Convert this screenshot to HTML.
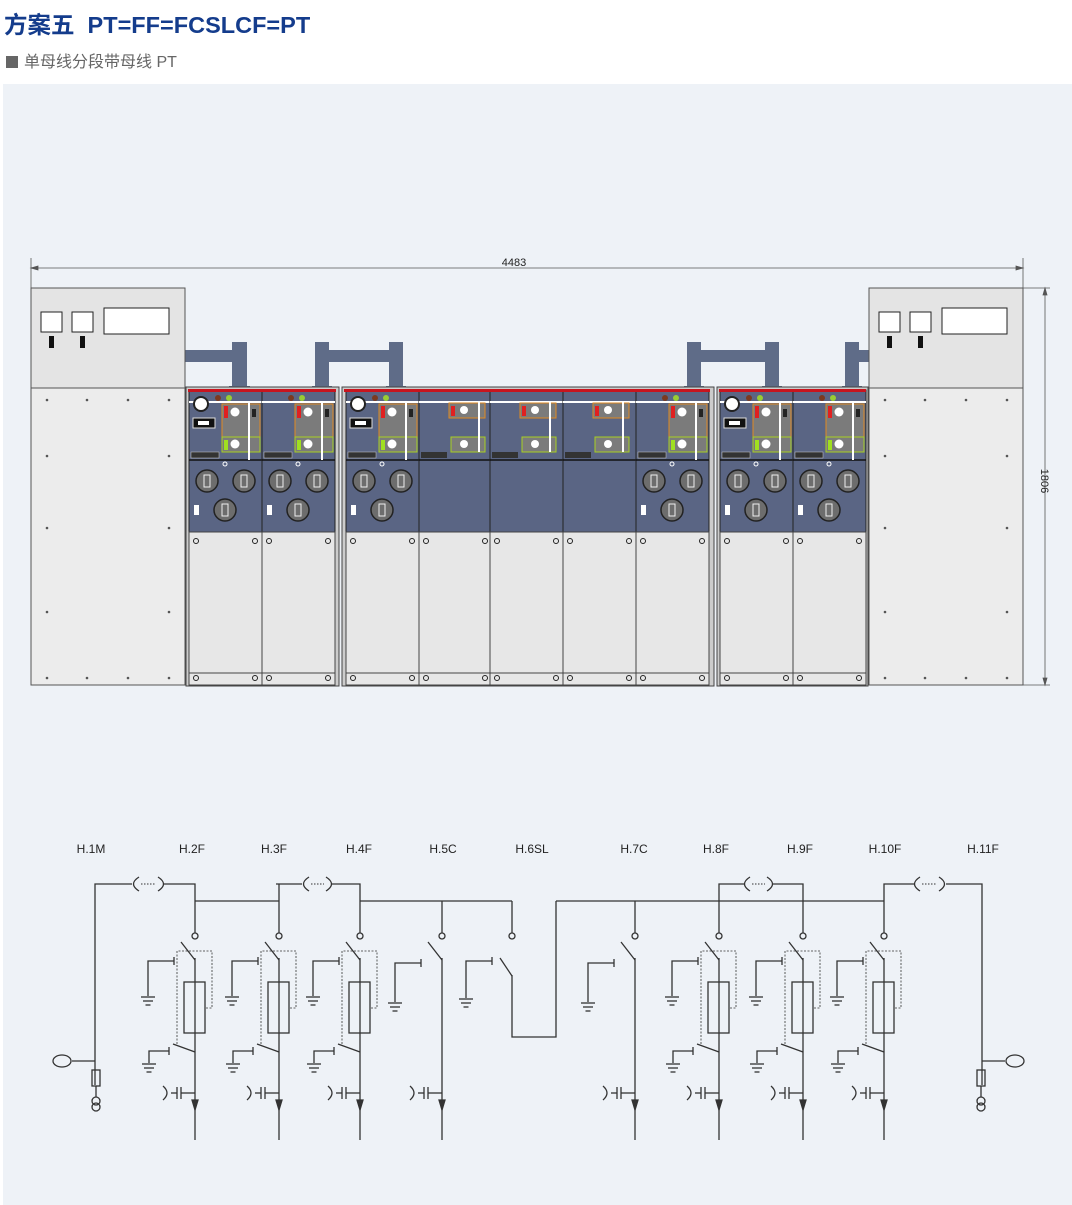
<!DOCTYPE html>
<html><head><meta charset="utf-8"><style>
body{margin:0;width:1072px;height:1205px;background:#fff;overflow:hidden;font-family:"Liberation Sans","Noto Sans CJK SC",sans-serif;}
.t{position:absolute;left:4px;top:6px;font-size:23.5px;font-weight:bold;color:#143c8c;white-space:nowrap;letter-spacing:0px}
.s{position:absolute;left:6px;top:48px;font-size:16px;color:#666;white-space:nowrap}
.s i{display:inline-block;width:12px;height:12px;background:#666;margin-right:6px;vertical-align:-1px}
.bg{position:absolute;left:3px;top:84px;width:1069px;height:1121px;background:#eef2f7}
svg{position:absolute;left:0;top:0}
</style></head><body>
<div class="t">方案五&nbsp; PT=FF=FCSLCF=PT</div>
<div class="s"><i></i>单母线分段带母线 PT</div>
<div class="bg"></div>
<svg width="1072" height="1205" viewBox="0 0 1072 1205" xmlns="http://www.w3.org/2000/svg">
<defs>
<g id="gnd" stroke="#333" stroke-width="1.3"><line x1="-7" y1="0" x2="7" y2="0"/><line x1="-5" y1="4" x2="5" y2="4"/><line x1="-2.5" y1="8" x2="2.5" y2="8"/></g>
<g id="low">
<rect x="0" y="532" width="73" height="153" fill="#e7e7e7" stroke="#444"/>
<line x1="0" y1="673" x2="73" y2="673" stroke="#444"/>
<circle cx="7" cy="541" r="2.5" fill="none" stroke="#222"/><circle cx="66" cy="541" r="2.5" fill="none" stroke="#222"/>
<circle cx="7" cy="678" r="2.5" fill="none" stroke="#222"/><circle cx="66" cy="678" r="2.5" fill="none" stroke="#222"/>
</g>
<g id="knob"><circle r="11" fill="#6d6d6d" stroke="#222" stroke-width="1.5"/><rect x="-3" y="-6" width="6" height="12" fill="none" stroke="#eee"/></g>
<g id="pF">
<rect x="0" y="390" width="73" height="142" fill="#5a6584" stroke="#222"/>
<line x1="0" y1="460" x2="73" y2="460" stroke="#111" stroke-width="1.5"/>
<line x1="0" y1="402" x2="73" y2="402" stroke="#fff" stroke-width="2"/>
<rect x="33" y="404" width="38" height="33" fill="#7b7b7b" stroke="#e08a20"/>
<rect x="33" y="437" width="38" height="15" fill="#7b7b7b" stroke="#a8d020"/>
<rect x="35" y="406" width="4" height="12" fill="#e02020"/><rect x="35" y="440" width="4" height="10" fill="#a0e020"/>
<circle cx="46" cy="412" r="4.5" fill="#fff"/><circle cx="46" cy="444" r="4.5" fill="#fff"/>
<line x1="60" y1="402" x2="60" y2="460" stroke="#fff" stroke-width="2"/>
<rect x="63" y="409" width="4" height="8" fill="#222"/>
<rect x="2" y="452" width="28" height="6" fill="#333" stroke="#ccc" stroke-width=".5"/>
<circle cx="36" cy="464" r="2" fill="none" stroke="#fff"/>
<use href="#knob" x="18" y="481"/><use href="#knob" x="55" y="481"/><use href="#knob" x="36" y="510"/>
<rect x="5" y="505" width="5" height="10" fill="#fff"/>
<use href="#low"/>
</g>
<g id="pC">
<rect x="0" y="390" width="73" height="142" fill="#5a6584" stroke="#222"/>
<line x1="0" y1="460" x2="73" y2="460" stroke="#111" stroke-width="1.5"/>
<line x1="0" y1="402" x2="73" y2="402" stroke="#fff" stroke-width="2"/>
<rect x="30" y="403" width="36" height="15" fill="#7b7b7b" stroke="#e08a20"/>
<rect x="32" y="437" width="34" height="15" fill="#7b7b7b" stroke="#a8d020"/>
<rect x="32" y="406" width="4" height="10" fill="#e02020"/>
<circle cx="45" cy="410" r="4" fill="#fff"/><circle cx="45" cy="444" r="4" fill="#fff"/>
<line x1="60" y1="402" x2="60" y2="452" stroke="#fff" stroke-width="2"/>
<rect x="2" y="452" width="26" height="6" fill="#333"/>
<use href="#low"/>
</g>
<g id="dots"><circle cx="29" cy="398" r="3" fill="#7a3a20"/><circle cx="40" cy="398" r="3" fill="#9c3"/></g>
<g id="gauge"><circle cx="12" cy="404" r="7" fill="#fff" stroke="#222" stroke-width="2"/><rect x="4" y="418" width="22" height="10" fill="#111" stroke="#ddd"/><rect x="9" y="421" width="11" height="4" fill="#fff"/><use href="#dots"/></g>
<g id="pt">
<rect x="0" y="288" width="154" height="100" fill="#e4e4e4" stroke="#555"/>
<rect x="0" y="388" width="154" height="297" fill="#ececec" stroke="#555"/>
<rect x="10" y="312" width="21" height="20" fill="#fff" stroke="#222"/><rect x="41" y="312" width="21" height="20" fill="#fff" stroke="#222"/>
<rect x="73" y="308" width="65" height="26" fill="#fff" stroke="#222"/>
<rect x="18" y="336" width="5" height="12" fill="#111"/><rect x="49" y="336" width="5" height="12" fill="#111"/>
<g fill="#555"><circle cx="16" cy="400" r="1.3"/><circle cx="56" cy="400" r="1.3"/><circle cx="97" cy="400" r="1.3"/><circle cx="138" cy="400" r="1.3"/>
<circle cx="16" cy="456" r="1.3"/><circle cx="138" cy="456" r="1.3"/><circle cx="16" cy="528" r="1.3"/><circle cx="138" cy="528" r="1.3"/>
<circle cx="16" cy="612" r="1.3"/><circle cx="138" cy="612" r="1.3"/><circle cx="16" cy="678" r="1.3"/><circle cx="56" cy="678" r="1.3"/><circle cx="97" cy="678" r="1.3"/><circle cx="138" cy="678" r="1.3"/></g>
</g>
<g id="capz" fill="none" stroke="#333" stroke-width="1.3">
<line x1="0" y1="1093" x2="-14" y2="1093"/><line x1="-14" y1="1087" x2="-14" y2="1099"/><line x1="-18" y1="1087" x2="-18" y2="1099"/><line x1="-18" y1="1093" x2="-24" y2="1093"/><path d="M-32 1086 Q-24 1093 -32 1100"/>
<path d="M-3 1100 L3 1100 L0 1110 Z" fill="#333"/>
</g>
<g id="fF" fill="none" stroke="#333" stroke-width="1.3">
<circle cx="0" cy="936" r="3"/><line x1="-14" y1="942" x2="0" y2="960"/><line x1="0" y1="958" x2="0" y2="1140"/>
<polyline points="-47,996 -47,961 -21,961"/><line x1="-21" y1="957" x2="-21" y2="965"/><use href="#gnd" x="-47" y="997"/>
<path d="M-18 1044 V951 H17 V1008 H11" stroke-dasharray="2,1.5" stroke-width=".8"/>
<rect x="-11" y="982" width="21" height="51"/>
<line x1="-22" y1="1044" x2="0" y2="1052"/><polyline points="-46,1063 -46,1051 -26,1051"/><line x1="-26" y1="1047" x2="-26" y2="1055"/><use href="#gnd" x="-46" y="1064"/>
<use href="#capz"/>
</g>
<g id="fC" fill="none" stroke="#333" stroke-width="1.3">
<circle cx="0" cy="936" r="3"/><line x1="-14" y1="942" x2="0" y2="960"/><line x1="0" y1="958" x2="0" y2="1140"/>
<polyline points="-47,1002 -47,963 -21,963"/><line x1="-21" y1="959" x2="-21" y2="967"/><use href="#gnd" x="-47" y="1003"/>
<use href="#capz"/>
</g>
</defs>

<g stroke="#555" stroke-width=".8" fill="none">
<line x1="31" y1="268" x2="1023" y2="268"/><line x1="31" y1="258" x2="31" y2="290"/><line x1="1023" y1="258" x2="1023" y2="290"/>
<path d="M31 268 l7 -2 v4z M1023 268 l-7 -2 v4z" fill="#555"/>
<line x1="1045" y1="288" x2="1045" y2="685"/><line x1="1023" y1="288" x2="1050" y2="288"/><line x1="1023" y1="685" x2="1050" y2="685"/>
<path d="M1045 288 l-2 7 h4z M1045 685 l-2 -7 h4z" fill="#555"/>
</g>
<text x="514" y="266" font-size="11" text-anchor="middle" fill="#222" font-family="Liberation Sans">4483</text>
<text x="0" y="0" font-size="11" text-anchor="middle" fill="#222" font-family="Liberation Sans" transform="translate(1041,481) rotate(90)">1806</text>

<g fill="#5f6c88">
<rect x="185" y="350" width="50" height="12"/><rect x="232" y="342" width="15" height="46"/><rect x="229" y="386" width="21" height="4"/>
<rect x="315" y="342" width="14" height="46"/><rect x="389" y="342" width="14" height="46"/><rect x="329" y="350" width="62" height="12"/><rect x="312" y="386" width="20" height="4"/><rect x="386" y="386" width="20" height="4"/>
<rect x="687" y="342" width="14" height="46"/><rect x="765" y="342" width="14" height="46"/><rect x="701" y="350" width="66" height="12"/><rect x="684" y="386" width="20" height="4"/><rect x="762" y="386" width="20" height="4"/>
<rect x="845" y="342" width="14" height="46"/><rect x="855" y="350" width="15" height="12"/><rect x="842" y="386" width="20" height="4"/>
</g>

<use href="#pt" x="31"/>
<use href="#pt" x="869"/>

<rect x="186" y="387" width="153" height="299" fill="#ccc" stroke="#444"/>
<use href="#pF" x="189"/><use href="#gauge" x="189"/>
<use href="#pF" x="262"/><use href="#dots" x="262"/>
<rect x="188" y="389" width="148" height="3" fill="#c8141e"/>
<rect x="342" y="387" width="372" height="299" fill="#ccc" stroke="#444"/>
<use href="#pF" x="346"/><use href="#gauge" x="346"/>
<use href="#pC" x="419"/><use href="#pC" x="490"/><use href="#pC" x="563"/>
<use href="#pF" x="636"/><use href="#dots" x="636"/>
<rect x="344" y="389" width="366" height="3" fill="#c8141e"/>
<rect x="717" y="387" width="151" height="299" fill="#ccc" stroke="#444"/>
<use href="#pF" x="720"/><use href="#gauge" x="720"/>
<use href="#pF" x="793"/><use href="#dots" x="793"/>
<rect x="719" y="389" width="147" height="3" fill="#c8141e"/>

<g font-size="12" fill="#222" text-anchor="middle" font-family="Liberation Sans">
<text x="91" y="853">H.1M</text><text x="192" y="853">H.2F</text><text x="274" y="853">H.3F</text><text x="359" y="853">H.4F</text><text x="443" y="853">H.5C</text><text x="532" y="853">H.6SL</text><text x="634" y="853">H.7C</text><text x="716" y="853">H.8F</text><text x="800" y="853">H.9F</text><text x="885" y="853">H.10F</text><text x="983" y="853">H.11F</text>
</g>
<g fill="none" stroke="#333" stroke-width="1.3">
<polyline points="95,1085 95,884 132,884"/><polyline points="164,884 195,884 195,933"/>
<polyline points="276,884 302,884"/><polyline points="332,884 360,884 360,933"/><line x1="279" y1="884" x2="279" y2="933"/>
<line x1="195" y1="901" x2="279" y2="901"/><line x1="360" y1="901" x2="512" y2="901"/>
<line x1="442" y1="901" x2="442" y2="933"/><line x1="512" y1="901" x2="512" y2="933"/>
<line x1="556" y1="901" x2="884" y2="901"/><line x1="635" y1="901" x2="635" y2="933"/>
<polyline points="719,933 719,884 744,884"/><polyline points="773,884 803,884 803,933"/>
<polyline points="884,933 884,884 914,884"/><polyline points="946,884 982,884 982,1085"/>
<path d="M139 877 Q128 884 139 891 M158 877 Q169 884 158 891"/><line x1="141" y1="884" x2="156" y2="884" stroke-dasharray="1.5,1.5" stroke-width="1"/>
<path d="M309 877 Q298 884 309 891 M326 877 Q337 884 326 891"/><line x1="311" y1="884" x2="324" y2="884" stroke-dasharray="1.5,1.5" stroke-width="1"/>
<path d="M750 877 Q739 884 750 891 M767 877 Q778 884 767 891"/><line x1="752" y1="884" x2="765" y2="884" stroke-dasharray="1.5,1.5" stroke-width="1"/>
<path d="M920 877 Q909 884 920 891 M939 877 Q950 884 939 891"/><line x1="922" y1="884" x2="937" y2="884" stroke-dasharray="1.5,1.5" stroke-width="1"/>
<line x1="72" y1="1061" x2="95" y2="1061"/><ellipse cx="62" cy="1061" rx="9" ry="6"/>
<rect x="92" y="1070" width="8" height="16"/><line x1="96" y1="1086" x2="96" y2="1097"/><circle cx="96" cy="1101" r="4"/><circle cx="96" cy="1107" r="4"/>
<line x1="982" y1="1061" x2="1005" y2="1061"/><ellipse cx="1015" cy="1061" rx="9" ry="6"/>
<rect x="977" y="1070" width="8" height="16"/><line x1="981" y1="1086" x2="981" y2="1097"/><circle cx="981" cy="1101" r="4"/><circle cx="981" cy="1107" r="4"/>
<circle cx="512" cy="936" r="3"/><line x1="500" y1="958" x2="512" y2="976"/><polyline points="512,975 512,1037 556,1037 556,901"/>
<polyline points="466,998 466,961 492,961"/><line x1="492" y1="957" x2="492" y2="965"/><use href="#gnd" x="466" y="999"/>
</g>
<use href="#fF" x="195"/><use href="#fF" x="279"/><use href="#fF" x="360"/>
<use href="#fC" x="442"/><use href="#fC" x="635"/>
<use href="#fF" x="719"/><use href="#fF" x="803"/><use href="#fF" x="884"/>
</svg>
</body></html>
